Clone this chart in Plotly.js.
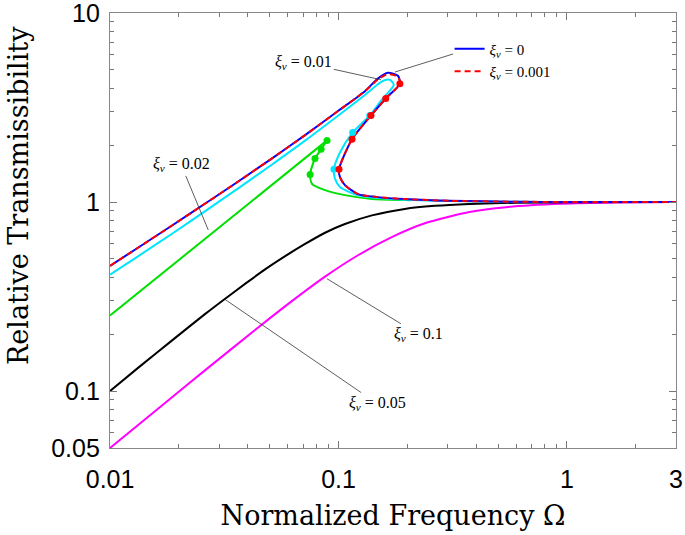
<!DOCTYPE html>
<html>
<head>
<meta charset="utf-8">
<script src="https://cdn.plot.ly/plotly-3.0.1.min.js"></script>
<style>
  html, body { margin: 0; padding: 0; background: #fff; }
  #plotArea { width: 685px; height: 535px; }
</style>
</head>
<body>
<div id="plotArea"></div>
<script>
// xi_v = 0 (blue): upper branch, peak loop, falling branch, lower branch
var x0 = [0.01, 0.0133, 0.01875, 0.0261, 0.0364, 0.0512, 0.0714, 0.0995, 0.1305, 0.1487, 0.1644, 0.182, 0.1856, 0.161, 0.1387, 0.1146, 0.1005, 0.1015, 0.1067, 0.1217, 0.1487, 0.195, 0.307, 0.6, 1, 3];
var y0 = [0.46, 0.575, 0.754, 0.982, 1.285, 1.704, 2.26, 3.03, 3.86, 4.5, 4.83, 4.66, 4.23, 3.53, 2.87, 2.15, 1.49, 1.354, 1.229, 1.102, 1.062, 1.037, 1.015, 1.004, 1, 1];

// xi_v = 0.001 (red dashed)
var x001 = [0.01, 0.0133, 0.01875, 0.0261, 0.0364, 0.0512, 0.0714, 0.0995, 0.1305, 0.1487, 0.1644, 0.182, 0.1856, 0.161, 0.1387, 0.1146, 0.1005, 0.1015, 0.1067, 0.1217, 0.1487, 0.195, 0.307, 0.6, 1, 3];
var y001 = [0.46, 0.575, 0.754, 0.982, 1.285, 1.704, 2.26, 3.03, 3.86, 4.45, 4.75, 4.6, 4.23, 3.53, 2.87, 2.15, 1.49, 1.354, 1.229, 1.102, 1.062, 1.037, 1.015, 1.004, 1, 1];
var dotX001 = [0.1856, 0.161, 0.1387, 0.1146, 0.1005];
var dotY001 = [4.23, 3.53, 2.87, 2.15, 1.49];

// xi_v = 0.01 (cyan)
var x01 = [0.01, 0.0133, 0.01875, 0.0261, 0.0364, 0.0512, 0.0714, 0.0995, 0.1305, 0.1487, 0.158, 0.168, 0.1747, 0.1548, 0.137, 0.1153, 0.1015, 0.0955, 0.0965, 0.1015, 0.1217, 0.1487, 0.195, 0.307, 0.6, 1, 3];
var y01 = [0.413, 0.518, 0.682, 0.896, 1.182, 1.581, 2.113, 2.863, 3.686, 4.2, 4.4, 4.43, 4.17, 3.48, 2.87, 2.33, 1.83, 1.49, 1.33, 1.2, 1.085, 1.05, 1.03, 1.012, 1.003, 1, 1];
var dotX01 = [0.137, 0.1153, 0.0955];
var dotY01 = [2.87, 2.33, 1.49];

// xi_v = 0.02 (green): straight rising part, then the folded part
var x02a = [0.01, 0.0502, 0.0891];
var y02a = [0.251, 1.207, 2.12];
var x02b = [0.0891, 0.0839, 0.0789, 0.0751, 0.0767, 0.0873, 0.1067, 0.14, 0.195, 0.2075];
var y02b = [2.12, 1.9, 1.7, 1.4, 1.244, 1.157, 1.088, 1.037, 1.024, 1.022];
var dotX02 = [0.0891, 0.0839, 0.0789, 0.0751];
var dotY02 = [2.12, 1.9, 1.7, 1.4];

// xi_v = 0.05 (black)
var x05 = [0.01, 0.0133, 0.01875, 0.0261, 0.0319, 0.0391, 0.0477, 0.0584, 0.0714, 0.0873, 0.1067, 0.14, 0.195, 0.264, 0.374, 0.6, 1, 3];
var y05 = [0.1, 0.133, 0.186, 0.256, 0.308, 0.37, 0.44, 0.517, 0.6, 0.688, 0.765, 0.85, 0.92, 0.955, 0.977, 0.992, 0.998, 1];

// xi_v = 0.1 (magenta)
var x1 = [0.01, 0.018, 0.0261, 0.0445, 0.0627, 0.0873, 0.1217, 0.171, 0.2387, 0.374, 0.542, 0.946, 1.65, 3];
var y1 = [0.05, 0.0895, 0.129, 0.217, 0.3, 0.403, 0.523, 0.652, 0.772, 0.885, 0.94, 0.979, 0.994, 1];

var xTicks = [0.01, 0.1, 1, 3];
var xTickText = ["0.01", "0.1", "1", "3"];
var yTicks = [0.05, 0.1, 1, 10];
var yTickText = ["0.05", "0.1", "1", "10"];

function curve(x, y, color, name, dash, show, shape) {
	return {
		x: x, y: y, type: "scatter", mode: "lines", name: name,
		line: { color: color, width: 2, dash: dash || "solid", shape: shape || "spline", smoothing: 0.7 },
		showlegend: !!show, hoverinfo: "skip"
	};
}
function dots(x, y, color) {
	return {
		x: x, y: y, type: "scatter", mode: "markers", showlegend: false,
		marker: { color: color, size: 7 }, hoverinfo: "skip"
	};
}

var data = [
	curve(x1, y1, "#ff00ff", "0.1"),
	curve(x05, y05, "#000000", "0.05"),
	curve(x02a, y02a, "#00e000", "0.02", "solid", false, "linear"),
	curve(x02b, y02b, "#00e000", "0.02"),
	curve(x01, y01, "#00e5ff", "0.01"),
	curve(x0, y0, "#0000ff", "<i>ξ<sub>v</sub></i> = 0", "solid", true),
	curve(x001, y001, "#ff0000", "<i>ξ<sub>v</sub></i> = 0.001", "6px,4px", true),
	dots(dotX02, dotY02, "#00e000"),
	dots(dotX01, dotY01, "#00e5ff"),
	dots(dotX001, dotY001, "#ff0000")
];

var serif = "Liberation Serif, Times New Roman, serif";
var lab = { family: serif, size: 16, color: "#000" };
var titleFont = { family: "DejaVu Serif, serif", size: 27, color: "#000" };

function note(txt, x, y, ax, ay) {
	return {
		text: txt, x: Math.log10(x), y: Math.log10(y), xref: "x", yref: "y",
		ax: ax, ay: ay, showarrow: true, arrowhead: 0, arrowwidth: 0.8,
		arrowcolor: "#333", font: lab
	};
}

var axisBase = {
	type: "log", showgrid: false, zeroline: false,
	showline: true, linecolor: "#888", linewidth: 1.2, mirror: "ticks",
	ticks: "inside", ticklen: 7, tickcolor: "#777", tickwidth: 1,
	ticklabeloverflow: "allow",
	minor: { dtick: "D1", ticks: "inside", ticklen: 4, tickcolor: "#777", tickwidth: 1, showgrid: false },
	tickfont: { family: "Liberation Sans, Arial, sans-serif", size: 25, color: "#000" }
};

var plotTop = 13;
var plotH = 535 - plotTop - 87;

var layout = {
	width: 685, height: 535,
	margin: { l: 110, r: 9, t: plotTop, b: 87 },
	paper_bgcolor: "#fff", plot_bgcolor: "#fff",
	showlegend: true,
	legend: {
		x: 0.6, y: 0.955, xanchor: "left", yanchor: "top",
		bgcolor: "rgba(0,0,0,0)", font: { family: serif, size: 15, color: "#000" }, tracegroupgap: 0
	},
	xaxis: Object.assign({}, axisBase, {
		range: [-2.0003, Math.log10(3) + 0.0003], tickvals: xTicks, ticktext: xTickText, ticklabelstandoff: 9,
		title: { text: "Normalized Frequency Ω", standoff: 13, font: titleFont }
	}),
	yaxis: Object.assign({}, axisBase, {
		range: [Math.log10(0.05) - 0.0003, 1.0003], tickvals: yTicks, ticktext: yTickText, ticklabelstandoff: 4
	}),
	annotations: [
		{ text: "Relative Transmissibility", textangle: -90, xref: "paper", yref: "paper",
		  x: (19 - 110) / 566, y: 1 - (196 - plotTop) / plotH, xanchor: "center", yanchor: "middle",
		  showarrow: false, font: titleFont },
		note("<i>ξ<sub>v</sub></i> = 0.01", 0.1533, 4.44, -77, -17),
		note("<i>ξ<sub>v</sub></i> = 0.02", 0.0269, 0.712, -27, -65),
		note("<i>ξ<sub>v</sub></i> = 0.1", 0.089, 0.393, 92, 56),
		note("<i>ξ<sub>v</sub></i> = 0.05", 0.0319, 0.305, 152, 104)
	],
	shapes: [
		{ type: "line", xref: "paper", yref: "paper",
		  x0: (453 - 110) / 566, y0: 1 - (54 - plotTop) / plotH,
		  x1: (395 - 110) / 566, y1: 1 - (72 - plotTop) / plotH,
		  line: { color: "#333", width: 0.8 } }
	]
};

Plotly.newPlot("plotArea", data, layout, { displayModeBar: false, staticPlot: true });
</script>
</body>
</html>
